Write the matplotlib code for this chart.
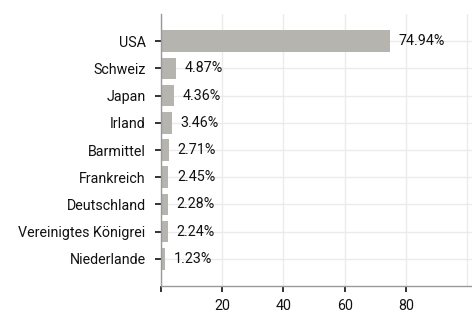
import matplotlib.pyplot as plt

plt.rcParams['font.family'] = ['Roboto', 'DejaVu Sans']

countries = ['USA', 'Schweiz', 'Japan', 'Irland', 'Barmittel', 'Frankreich',
             'Deutschland', 'Vereinigtes Königrei', 'Niederlande']
weights = [74.94, 4.87, 4.36, 3.46, 2.71, 2.45, 2.28, 2.24, 1.23]
labels = ['74.94%', '4.87%', '4.36%', '3.46%', '2.71%', '2.45%', '2.28%', '2.24%', '1.23%']

fig = plt.figure(figsize=(4.72, 3.16), dpi=100)
ax = fig.add_axes([161 / 472, 30 / 316, 1 - 161 / 472, 272 / 316])

ypos = list(range(len(countries)))
ax.barh(ypos, weights, height=0.8, color='#b5b4af', zorder=2)
for y, w, lab in zip(ypos, weights, labels):
    ax.text(w + 2.8, y, lab, va='center', ha='left', fontsize=10.3, color='#111111')

ax.set_ylim(len(countries), -1)
ax.set_xlim(0, 101.6)
ax.set_yticks(ypos)
ax.set_yticklabels(countries, fontsize=10.3, color='#111111')
ax.set_xticks([0, 20, 40, 60, 80])
ax.set_xticklabels(['', '20', '40', '60', '80'], fontsize=10.3, color='#111111')
ax.tick_params(axis='both', length=4, width=1.2, color='#111111')
ax.tick_params(axis='y', pad=7)
ax.tick_params(axis='x', pad=5)

ax.grid(True, color='#ebebeb', linewidth=1, zorder=0)
ax.axvline(100, color='#ebebeb', linewidth=1, zorder=0)
for s in ['top', 'right']:
    ax.spines[s].set_visible(False)
for s in ['left', 'bottom']:
    ax.spines[s].set_color('#999999')
    ax.spines[s].set_linewidth(1)

fig.savefig('out.png', dpi=100)
